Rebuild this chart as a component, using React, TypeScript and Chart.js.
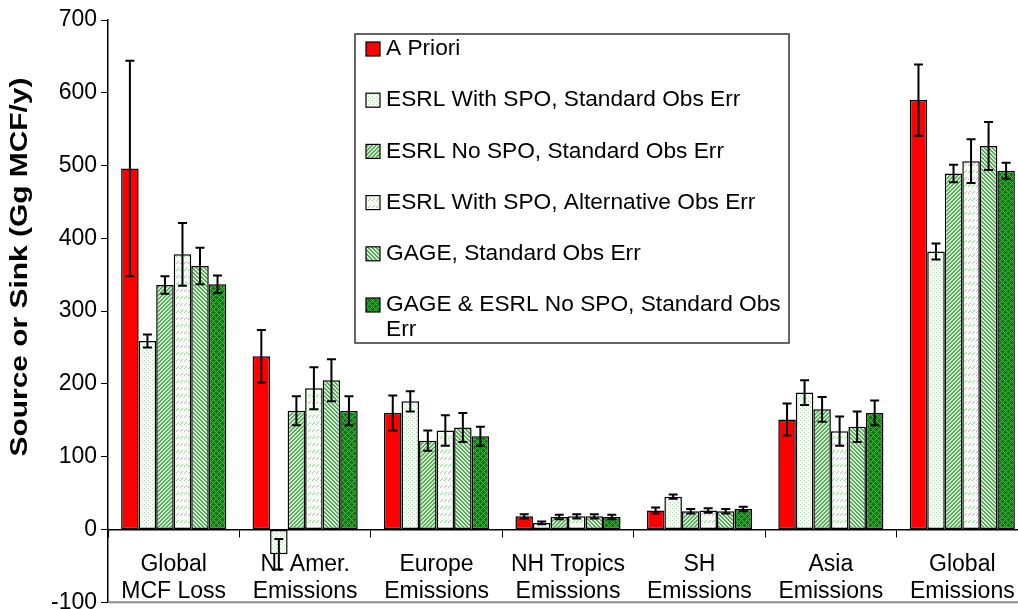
import React, { useEffect, useRef } from "react";
import { Chart, registerables } from "chart.js";

Chart.register(...registerables);

// Regions (x-axis categories)
const categories: string[][] = [
  ["Global", "MCF Loss"],
  ["N. Amer.", "Emissions"],
  ["Europe", "Emissions"],
  ["NH Tropics", "Emissions"],
  ["SH", "Emissions"],
  ["Asia", "Emissions"],
  ["Global", "Emissions"],
];

const seriesNames = [
  "A Priori",
  "ESRL With SPO, Standard Obs Err",
  "ESRL No SPO, Standard Obs Err",
  "ESRL With SPO, Alternative Obs Err",
  "GAGE, Standard Obs Err",
  "GAGE & ESRL No SPO, Standard Obs Err",
];

// Source / sink estimates (Gg MCF/y) and their uncertainties
const aPriori = [496, 238, 160, 18, 26, 151, 590];
const aPrioriErr = [148, 36, 24, 3, 4, 22, 49];

const esrlSpoStd = [259, -34, 176, 9, 45, 188, 382];
const esrlSpoStdErr = [9, 21, 14, 2, 3, 17, 11];

const esrlNoSpoStd = [336, 163, 122, 17, 25, 165, 489];
const esrlNoSpoStdErr = [12, 20, 14, 3, 3, 17, 12];

const esrlSpoAlt = [378, 194, 136, 18, 26, 135, 506];
const esrlSpoAltErr = [43, 29, 21, 3, 3, 20, 30];

const gageStd = [362, 205, 140, 18, 25, 141, 527];
const gageStdErr = [25, 29, 20, 3, 3, 21, 33];

const gageEsrlStd = [337, 163, 128, 17, 28, 160, 493];
const gageEsrlStdErr = [12, 20, 13, 3, 3, 17, 11];

const yTicks = [-100, 0, 100, 200, 300, 400, 500, 600, 700];
const yTitle = "Source or Sink (Gg MCF/y)";

const FONT = "'Liberation Sans', Arial, Helvetica, sans-serif";

type PixelFn = (x: number, y: number) => string;

function makePattern(w: number, h: number, fn: PixelFn): CanvasPattern | string {
  const c = document.createElement("canvas");
  c.width = w;
  c.height = h;
  const ctx = c.getContext("2d");
  if (!ctx) return "#ccc";
  for (let y = 0; y < h; y++) {
    for (let x = 0; x < w; x++) {
      ctx.fillStyle = fn(x, y);
      ctx.fillRect(x, y, 1, 1);
    }
  }
  const p = ctx.createPattern(c, "repeat");
  return p || "#ccc";
}

function buildFills() {
  // light dotted
  const dots = makePattern(4, 4, (x, y) =>
    (x === 0 && y === 0) || (x === 2 && y === 2) ? "#bcd9bc" : "#f6fbf6"
  );
  // rising diagonal stripes
  const fwd = makePattern(4, 4, (x, y) => ((x + y) % 4 < 2 ? "#5aab5a" : "#cfeacf"));
  // rows of small slashes
  const dashes = makePattern(8, 7, (x, y) => {
    if (y >= 2 && y <= 4 && (x + y) % 4 === 0) return "#9ccc9c";
    return "#f7fcf7";
  });
  // falling diagonal stripes
  const back = makePattern(4, 4, (x, y) => ((x - y + 8) % 4 < 2 ? "#5aa65a" : "#d6eed6"));
  // diamond lattice on dark green
  const lattice = makePattern(6, 6, (x, y) =>
    (x + y) % 6 === 0 || (x - y + 6) % 6 === 0 ? "#55b055" : "#0b7f0b"
  );
  return ["#ff0000", dots, fwd, dashes, back, lattice];
}

const errorBarsPlugin = {
  id: "errorBars",
  afterDatasetsDraw(chart: any) {
    const ctx = chart.ctx;
    const yScale = chart.scales.y;
    ctx.save();
    ctx.strokeStyle = "#000";
    ctx.lineWidth = 2;
    chart.data.datasets.forEach((ds: any, i: number) => {
      const meta = chart.getDatasetMeta(i);
      meta.data.forEach((bar: any, j: number) => {
        const v = ds.data[j];
        const e = ds.errors[j];
        const x = bar.x;
        const yT = yScale.getPixelForValue(v + e);
        const yB = yScale.getPixelForValue(v - e);
        const cap = 4.5;
        ctx.beginPath();
        ctx.moveTo(x, yT);
        ctx.lineTo(x, yB);
        ctx.moveTo(x - cap, yT);
        ctx.lineTo(x + cap, yT);
        ctx.moveTo(x - cap, yB);
        ctx.lineTo(x + cap, yB);
        ctx.stroke();
      });
    });
    ctx.restore();
  },
};

const framePlugin = {
  id: "frameAndLegend",
  afterDraw(chart: any) {
    const ctx = chart.ctx;
    const area = chart.chartArea;
    ctx.save();

    // bottom edge of the plot
    ctx.strokeStyle = "#8c8c8c";
    ctx.lineWidth = 2;
    ctx.beginPath();
    ctx.moveTo(area.left, area.bottom);
    ctx.lineTo(chart.width, area.bottom);
    ctx.stroke();

    // axis title (tall, narrow lettering)
    ctx.save();
    ctx.translate(21, 267);
    ctx.rotate(-Math.PI / 2);
    ctx.scale(1.3, 1);
    ctx.fillStyle = "#000";
    ctx.font = `bold 23px ${FONT}`;
    ctx.textAlign = "center";
    ctx.textBaseline = "middle";
    ctx.fillText(yTitle, 0, 0);
    ctx.restore();

    // legend box
    const bx = 355, by = 34, bw = 434, bh = 309;
    ctx.fillStyle = "#fff";
    ctx.fillRect(bx, by, bw, bh);
    ctx.strokeStyle = "#333";
    ctx.lineWidth = 1.5;
    ctx.strokeRect(bx, by, bw, bh);

    ctx.font = `22.7px ${FONT}`;
    ctx.textBaseline = "middle";
    ctx.textAlign = "left";
    const textX = 386;
    const maxW = bx + bw - textX - 4;
    chart.data.datasets.forEach((ds: any, i: number) => {
      const cy = 49 + i * 51.2;
      ctx.fillStyle = ds.backgroundColor;
      ctx.fillRect(366, cy - 7, 14, 14);
      ctx.strokeStyle = "#000";
      ctx.lineWidth = 1.2;
      ctx.strokeRect(366, cy - 7, 14, 14);
      // wrap label to the box width
      const words = String(ds.label).split(" ");
      const lines: string[] = [];
      let cur = "";
      words.forEach((w) => {
        const test = cur ? cur + " " + w : w;
        if (ctx.measureText(test).width > maxW && cur) {
          lines.push(cur);
          cur = w;
        } else {
          cur = test;
        }
      });
      if (cur) lines.push(cur);
      ctx.fillStyle = "#000";
      lines.forEach((ln, k) => ctx.fillText(ln, textX, cy + k * 24.5));
    });
    ctx.restore();
  },
};

export default function App() {
  const ref = useRef<HTMLCanvasElement>(null);

  useEffect(() => {
    const canvas = ref.current;
    if (!canvas) return;
    const fills = buildFills();
    const values = [aPriori, esrlSpoStd, esrlNoSpoStd, esrlSpoAlt, gageStd, gageEsrlStd];
    const errs = [aPrioriErr, esrlSpoStdErr, esrlNoSpoStdErr, esrlSpoAltErr, gageStdErr, gageEsrlStdErr];

    const chart = new Chart(canvas, {
      type: "bar",
      data: {
        labels: categories,
        datasets: values.map((vals, i) => ({
          label: seriesNames[i],
          data: vals,
          errors: errs[i],
          backgroundColor: fills[i],
          borderColor: "#000",
          borderWidth: 1.5,
          borderSkipped: false,
          barPercentage: 1,
          categoryPercentage: 0.8,
        })) as any,
      },
      options: {
        responsive: false,
        animation: false,
        devicePixelRatio: 1,
        layout: { padding: { left: 0, top: 20, right: 12, bottom: 17 } },
        plugins: {
          legend: { display: false },
          tooltip: { enabled: false },
        },
        scales: {
          x: {
            type: "category",
            position: { y: 0 } as any,
            grid: {
              offset: true,
              drawOnChartArea: false,
              drawTicks: true,
              tickLength: 7,
              color: "#000",
            },
            border: { display: true, color: "#000", width: 1.5 },
            ticks: {
              color: "#000",
              font: { family: FONT, size: 23 },
              padding: 14,
              maxRotation: 0,
              autoSkip: false,
            },
          },
          y: {
            min: -100,
            max: 700,
            afterFit(scale: any) {
              scale.width = 108;
            },
            afterBuildTicks(scale: any) {
              scale.ticks = yTicks.map((v) => ({ value: v }));
            },
            grid: {
              drawOnChartArea: false,
              drawTicks: true,
              tickLength: 7,
              color: "#000",
            },
            border: { display: true, color: "#000", width: 1.5 },
            ticks: {
              color: "#000",
              font: { family: FONT, size: 23 },
              padding: 4,
            },
          },
        },
      },
      plugins: [errorBarsPlugin, framePlugin],
    });
    return () => chart.destroy();
  }, []);

  return (
    <div
      style={{
        position: "fixed",
        left: 0,
        top: 0,
        width: 1018,
        height: 609,
        overflow: "hidden",
        background: "#fff",
      }}
    >
      <canvas ref={ref} width={1040} height={620} style={{ display: "block", width: 1040, height: 620 }} />
    </div>
  );
}
